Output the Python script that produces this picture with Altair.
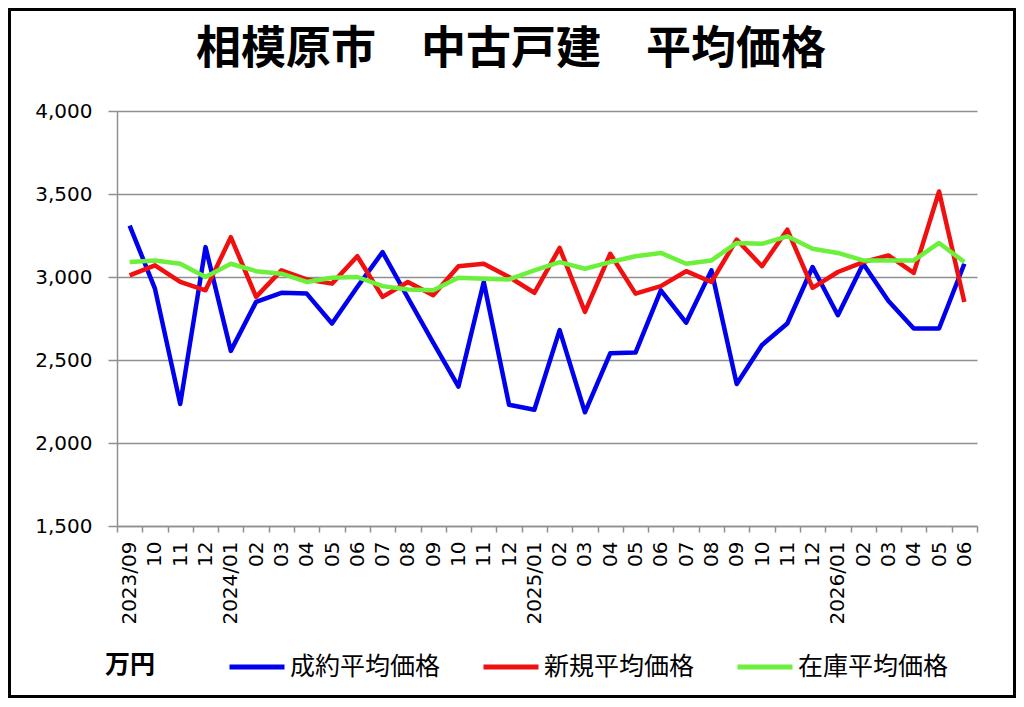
import json
import altair as alt
import pandas as pd

months = [
    "2023/09", "2023/10", "2023/11", "2023/12",
    "2024/01", "2024/02", "2024/03", "2024/04", "2024/05", "2024/06",
    "2024/07", "2024/08", "2024/09", "2024/10", "2024/11", "2024/12",
    "2025/01", "2025/02", "2025/03", "2025/04", "2025/05", "2025/06",
    "2025/07", "2025/08", "2025/09", "2025/10", "2025/11", "2025/12",
    "2026/01", "2026/02", "2026/03", "2026/04", "2026/05", "2026/06",
]
tick_labels = [
    "2023/09", "10", "11", "12",
    "2024/01", "02", "03", "04", "05", "06",
    "07", "08", "09", "10", "11", "12",
    "2025/01", "02", "03", "04", "05", "06",
    "07", "08", "09", "10", "11", "12",
    "2026/01", "02", "03", "04", "05", "06",
]
y_ticks = [1500, 2000, 2500, 3000, 3500, 4000]

chart_title = "相模原市　中古戸建　平均価格"
unit_label = "万円"
series_names = ["成約平均価格", "新規平均価格", "在庫平均価格"]
seiyaku = [3310, 2930, 2235, 3180, 2555, 2850, 2905, 2900, 2720, 2940,
           3150, 2875, 2605, 2340, 2970, 2230, 2200, 2680, 2185, 2540,
           2545, 2920, 2725, 3040, 2355, 2590, 2720, 3060, 2770, 3080,
           2855, 2690, 2690, 3080]
shinki = [3010, 3070, 2970, 2920, 3240, 2880, 3040, 2985, 2960, 3125,
          2880, 2970, 2890, 3065, 3080, 3000, 2905, 3175, 2790, 3140,
          2900, 2945, 3035, 2970, 3225, 3065, 3285, 2935, 3030, 3090,
          3130, 3025, 3515, 2850]
zaiko = [3090, 3100, 3080, 3000, 3080, 3035, 3020, 2970, 2995, 3000,
         2945, 2925, 2920, 2995, 2990, 2985, 3040, 3090, 3050, 3090,
         3125, 3145, 3080, 3100, 3205, 3200, 3245, 3170, 3145, 3100,
         3100, 3100, 3205, 3090]
colors = ["#0000EE", "#F01010", "#6CF03C"]

rows = []
for name, vals in zip(series_names, [seiyaku, shinki, zaiko]):
    for m, v in zip(months, vals):
        rows.append({"month": m, "series": name, "price": v})
df = pd.DataFrame(rows)

label_expr = "{}[indexof({}, datum.value)]".format(
    json.dumps(tick_labels), json.dumps(months)
)

JP = "Noto Sans CJK JP"
NUM = "DejaVu Sans"
GRAY = "#8f8f8f"

lines = alt.Chart(df).mark_line(strokeWidth=4.5, strokeJoin="round").encode(
    x=alt.X(
        "month:N",
        sort=months,
        bandPosition=0.5,
        scale=alt.Scale(type="band", paddingInner=0, paddingOuter=0),
        axis=alt.Axis(
            title=None, labelAngle=270, labelExpr=label_expr,
            tickBand="extent", grid=False, domainColor=GRAY, domainWidth=1.5,
            tickColor=GRAY, tickWidth=1.5, tickSize=6,
            labelFont=NUM, labelFontSize=20, labelColor="black", labelPadding=9,
        ),
    ),
    y=alt.Y(
        "price:Q",
        scale=alt.Scale(domain=[1500, 4000], nice=False, zero=False),
        axis=alt.Axis(
            title=None, values=y_ticks, format=",.0f",
            grid=True, gridColor=GRAY, gridWidth=1.5,
            domainColor=GRAY, domainWidth=1.5, tickColor=GRAY, tickWidth=1.5,
            tickSize=9, labelPadding=16,
            labelFont=NUM, labelFontSize=20, labelColor="black",
        ),
    ),
    color=alt.Color(
        "series:N",
        sort=series_names,
        scale=alt.Scale(domain=series_names, range=colors),
        legend=alt.Legend(
            orient="none", legendX=110, legendY=526, direction="horizontal",
            title=None,
            labelFont=JP, labelFontSize=25, labelColor="black", labelLimit=400,
            symbolType="stroke", symbolSize=3025, symbolStrokeWidth=5,
            labelOffset=3, columnPadding=32,
        ),
    ),
)

title_text = alt.Chart(pd.DataFrame({"t": [chart_title]})).mark_text(
    font=JP, fontSize=45, fontWeight="bold", color="black",
    align="center", baseline="middle",
).encode(text="t:N", x=alt.value(394), y=alt.value(-61))

unit_text = alt.Chart(pd.DataFrame({"t": [unit_label]})).mark_text(
    font=JP, fontSize=25, fontWeight="bold", color="black",
    align="left", baseline="middle",
).encode(text="t:N", x=alt.value(-12), y=alt.value(554))

border = alt.Chart(pd.DataFrame({"d": [0]})).mark_rect(
    fillOpacity=0, stroke="black", strokeWidth=3
).encode(
    x=alt.value(-107.5), x2=alt.value(897.5),
    y=alt.value(-101.5), y2=alt.value(585.5),
)

chart = alt.layer(border, title_text, unit_text, lines).properties(
    width=860,
    height=415,
    autosize=alt.AutoSizeParams(type="none"),
    padding={"left": 109, "top": 103, "right": 39, "bottom": 172},
    background="white",
).configure_view(stroke=None)

chart.save("out.html", embed_options={"renderer": "svg", "actions": False})
